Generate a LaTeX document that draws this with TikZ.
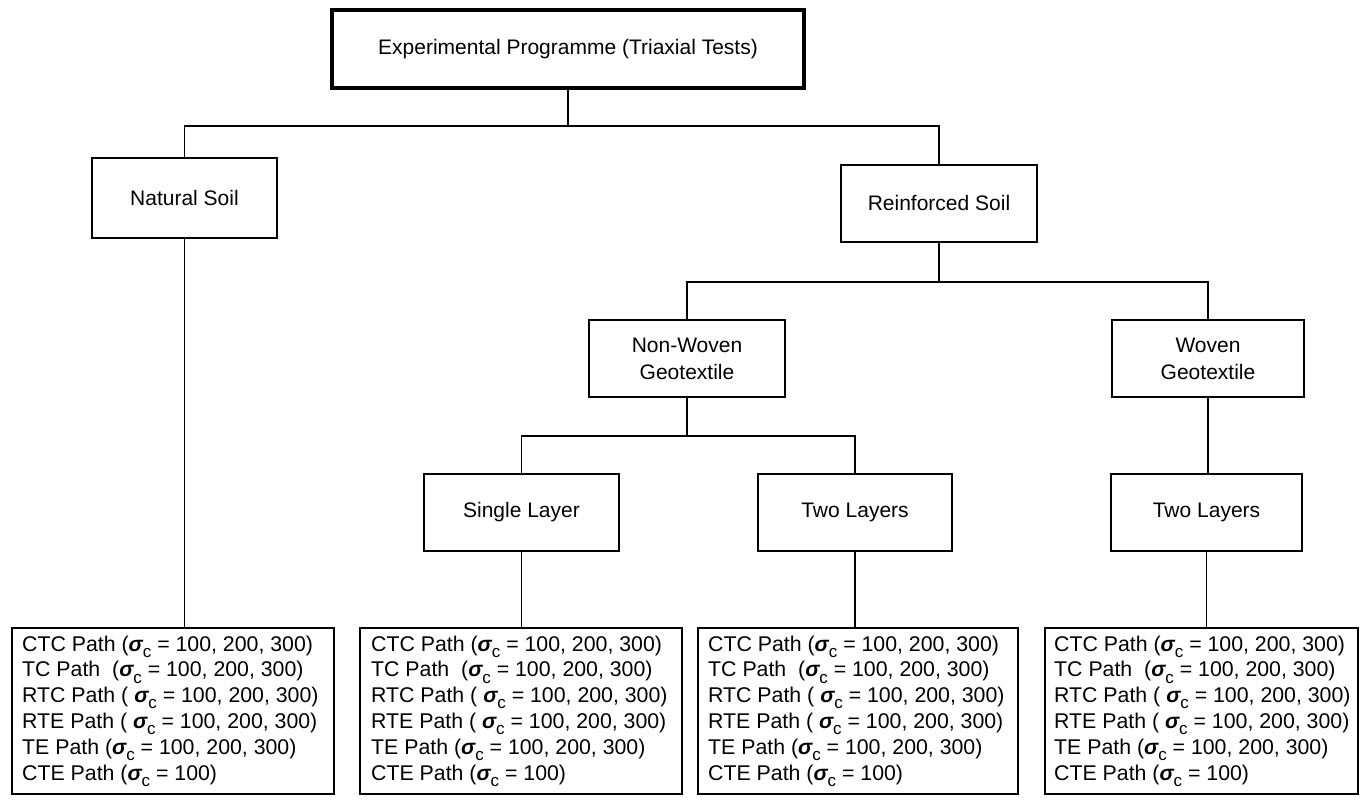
\documentclass[tikz,border=0pt]{standalone}
\usepackage{fontspec}
\setmainfont{Liberation Sans}
\newcommand\sigc{{\bfseries\itshape σ}\raisebox{-0.55ex}{\fontsize{8.5pt}{8.5pt}\selectfont c}}
\newcommand\pathlist{CTC Path (\sigc\ = 100, 200, 300)\\
TC Path\ \ (\sigc\ = 100, 200, 300)\\
RTC Path ( \sigc\ = 100, 200, 300)\\
RTE Path ( \sigc\ = 100, 200, 300)\\
TE Path (\sigc\ = 100, 200, 300)\\
CTE Path (\sigc\ = 100)}
\begin{document}
\begin{tikzpicture}[x=0.5pt,y=-0.5pt,
  lbl/.style={draw, line width=1.2pt, rectangle, inner sep=0pt, align=center,
    font=\fontsize{10.5pt}{13.5pt}\selectfont, minimum height=38.5pt},
  listbox/.style={draw, line width=1.2pt, rectangle, inner sep=0pt, minimum height=83pt},
  listtext/.style={inner sep=0pt, align=left, anchor=west,
    font=\fontsize{10.65pt}{12.9pt}\selectfont},
  conn/.style={line width=0.75pt}]
\useasboundingbox (0,0) rectangle (1361,801);
\fill[white] (0,0) rectangle (1361,801);
% boxes
\node[lbl, line width=2pt, minimum width=236pt, minimum height=39pt] (top) at (568,49) {Experimental Programme (Triaxial Tests)};
\node[lbl, minimum width=92.5pt, minimum height=40pt] (nat) at (184.5,198) {Natural Soil};
\node[lbl, minimum width=98pt] (rein) at (939,203.5) {Reinforced Soil};
\node[lbl, minimum width=98pt] (nw) at (687,358.5) {Non-Woven\\Geotextile};
\node[lbl, minimum width=96pt] (wv) at (1208,358.5) {Woven\\Geotextile};
\node[lbl, minimum width=97.5pt] (sl) at (521.5,512.5) {Single Layer};
\node[lbl, minimum width=97pt] (tl1) at (855,512.5) {Two Layers};
\node[lbl, minimum width=95.5pt] (tl2) at (1206.5,512.5) {Two Layers};
% list boxes
\node[listbox, minimum width=161pt] (b1) at (173,711) {};
\node[listbox, minimum width=161pt] (b2) at (521,711) {};
\node[listbox, minimum width=160pt] (b3) at (858,711) {};
\node[listbox, minimum width=156.5pt] (b4) at (1201.5,711) {};
\node[listtext] (t1) at ([xshift=5.5pt]b1.west) {\pathlist};
\node[listtext] (t2) at ([xshift=6pt]b2.west) {\pathlist};
\node[listtext] (t3) at ([xshift=5.5pt]b3.west) {\pathlist};
\node[listtext] (t4) at ([xshift=5pt]b4.west) {\pathlist};
% junction coordinates
\coordinate (j1) at (568,126);
\coordinate (j2) at (939,282);
\coordinate (j3) at (687,436);
% connectors
\draw[conn] (top.south) -- (j1);
\draw[conn] (nat.north) |- (j1) -| (rein.north);
\draw[conn] (nat.south) -- (nat.south |- b1.north);
\draw[conn] (rein.south) -- (j2);
\draw[conn] (nw.north) |- (j2) -| (wv.north);
\draw[conn] (nw.south) -- (j3);
\draw[conn] (sl.north) |- (j3) -| (tl1.north);
\draw[conn] (wv.south) -- (wv.south |- tl2.north);
\draw[conn] (sl.south) -- (sl.south |- b2.north);
\draw[conn] (tl1.south) -- (tl1.south |- b3.north);
\draw[conn] (tl2.south) -- (tl2.south |- b4.north);
\end{tikzpicture}
\end{document}
